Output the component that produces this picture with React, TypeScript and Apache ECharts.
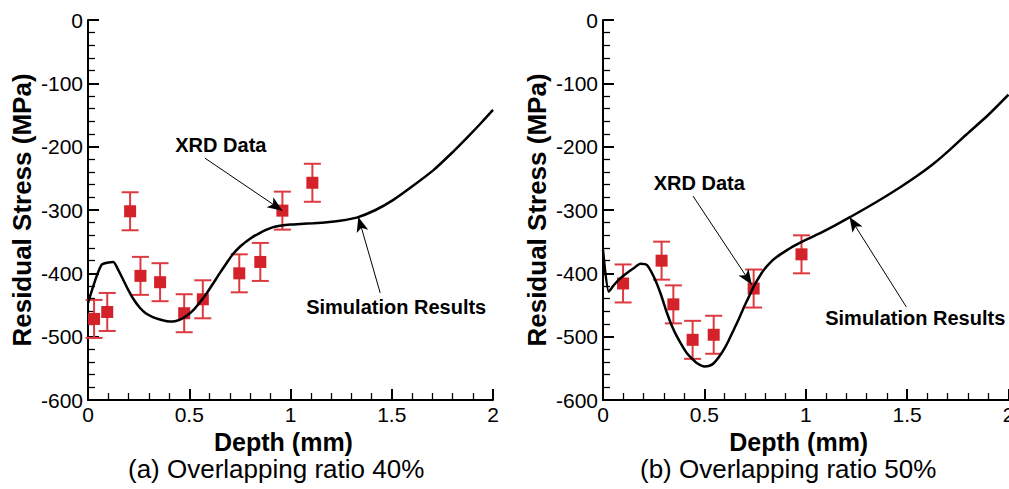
import React, { useEffect, useRef } from "react";
import * as echarts from "echarts";

// ---------- data ----------
const xTicks = [0, 0.5, 1, 1.5, 2];
const yTicks = [0, -100, -200, -300, -400, -500, -600];

// (a) Overlapping ratio 40%
const aXrdDepth = [0.03, 0.095, 0.208, 0.259, 0.356, 0.475, 0.567, 0.747, 0.851, 0.96, 1.108];
const aXrdStress = [-472, -461, -302, -404, -414, -463, -441, -400, -382, -301, -257];
const aXrdErr = [30, 30, 30, 30, 30, 30, 30, 30, 30, 30, 30];
const aSimDepth = [0, 0.066, 0.125, 0.15, 0.175, 0.2, 0.225, 0.255, 0.285, 0.32, 0.355, 0.39, 0.42, 0.455, 0.487, 0.52, 0.552, 0.585, 0.618, 0.65, 0.684, 0.715, 0.75, 0.785, 0.816, 0.85, 0.882, 0.915, 0.948, 1.0, 1.05, 1.113, 1.18, 1.245, 1.327, 1.42, 1.508, 1.6, 1.706, 1.79, 1.871, 1.94, 2.0];
const aSimStress = [-447, -387, -382, -395, -411, -427, -441, -454, -463, -469, -473, -475.5, -476, -473, -467, -458, -446, -432, -416, -400, -384, -370, -358, -349, -342, -336, -331, -327, -325, -323, -322, -321, -319.5, -317, -312, -300, -284, -263, -237, -212, -186, -163, -142];

// (b) Overlapping ratio 50%
const bXrdDepth = [0.099, 0.289, 0.347, 0.442, 0.546, 0.743, 0.979];
const bXrdStress = [-416, -380, -449, -505, -497, -424, -370];
const bXrdErr = [30, 30, 30, 30, 30, 30, 30];
const bSimDepth = [0, 0.028, 0.055, 0.085, 0.12, 0.151, 0.184, 0.217, 0.25, 0.283, 0.316, 0.34, 0.365, 0.39, 0.414, 0.44, 0.464, 0.5, 0.525, 0.546, 0.57, 0.595, 0.62, 0.645, 0.67, 0.693, 0.718, 0.743, 0.768, 0.792, 0.825, 0.858, 0.9, 0.94, 1.0, 1.055, 1.14, 1.22, 1.34, 1.466, 1.55, 1.63, 1.71, 1.795, 1.9, 2.0];
const bSimStress = [-363, -429, -418, -408, -399, -392, -385, -387, -405, -431, -463, -483, -500, -514, -526, -535, -542, -547, -546, -542, -533, -521, -506, -489, -472, -455, -438, -421, -407, -395, -383, -374, -365, -357, -347, -339, -325, -311, -289, -264, -246, -227, -205, -180, -150, -118];

// annotations: [label, labelX, labelY, arrowFromX, arrowFromY, arrowToX, arrowToY]
const aNotes: [string, number, number, number, number, number, number][] = [
  ["XRD Data", 0.656, -197, 0.577, -218, 0.96, -301],
  ["Simulation Results", 1.522, -453, 1.443, -431, 1.335, -311],
];
const bNotes: [string, number, number, number, number, number, number][] = [
  ["XRD Data", 0.475, -258, 0.444, -278, 0.734, -418],
  ["Simulation Results", 1.54, -470, 1.496, -453, 1.216, -311],
];

const captions = ["(a) Overlapping ratio 40%", "(b) Overlapping ratio 50%"];

const RED = "#d3222a";
const RED_BAR = "#dc3a40";
const FONT = "Arial, 'Liberation Sans', Helvetica, sans-serif";

function zip(a: number[], b: number[]) {
  return a.map((v, i) => [v, b[i]]);
}

function errData(x: number[], y: number[], e: number[]) {
  return x.map((v, i) => [v, y[i] - e[i], y[i] + e[i]]);
}

function makeAxes(gridIndex: number) {
  const xAxis = {
    type: "value",
    gridIndex,
    min: 0,
    max: 2,
    interval: 0.5,
    name: "Depth (mm)",
    nameLocation: "middle",
    nameGap: 24,
    nameTextStyle: {
      fontFamily: FONT,
      fontSize: 25,
      lineHeight: 25,
      fontWeight: "bold",
      color: "#000",
      padding: [0, 14, 0, 0],
    },
    axisLine: { onZero: false, lineStyle: { color: "#000", width: 2 } },
    axisTick: { inside: true, length: 11, lineStyle: { color: "#000", width: 2 } },
    minorTick: { show: true, splitNumber: 5, length: 7, lineStyle: { color: "#000", width: 1.3 } },
    splitLine: { show: false },
    axisLabel: {
      fontFamily: FONT,
      fontSize: 21,
      color: "#000",
      margin: 4,
      formatter: (v: number) => (xTicks.includes(v) ? String(v) : ""),
    },
  };
  const yAxis = {
    type: "value",
    gridIndex,
    min: -600,
    max: 0,
    interval: 100,
    name: "Residual Stress (MPa)",
    nameLocation: "middle",
    nameGap: 53,
    nameTextStyle: { fontFamily: FONT, fontSize: 26, fontWeight: "bold", color: "#000" },
    axisLine: { onZero: false, lineStyle: { color: "#000", width: 2 } },
    axisTick: { inside: true, length: 11, lineStyle: { color: "#000", width: 2 } },
    minorTick: { show: true, splitNumber: 5, length: 7, lineStyle: { color: "#000", width: 1.3 } },
    splitLine: { show: false },
    axisLabel: {
      fontFamily: FONT,
      fontSize: 21,
      color: "#000",
      margin: 5,
      formatter: (v: number) => (yTicks.includes(v) ? String(v) : ""),
    },
  };
  return { xAxis, yAxis };
}

function errorBarSeries(idx: number, data: number[][]) {
  return {
    type: "custom",
    xAxisIndex: idx,
    yAxisIndex: idx,
    silent: true,
    z: 2,
    encode: { x: 0, y: [1, 2] },
    data,
    renderItem: (_params: any, api: any) => {
      const x = api.value(0);
      const lo = api.coord([x, api.value(1)]);
      const hi = api.coord([x, api.value(2)]);
      const hw = 8.5;
      const style = { stroke: RED_BAR, lineWidth: 2, fill: "none" };
      return {
        type: "group",
        children: [
          { type: "line", shape: { x1: lo[0], y1: lo[1], x2: hi[0], y2: hi[1] }, style },
          { type: "line", shape: { x1: lo[0] - hw, y1: lo[1], x2: lo[0] + hw, y2: lo[1] }, style },
          { type: "line", shape: { x1: hi[0] - hw, y1: hi[1], x2: hi[0] + hw, y2: hi[1] }, style },
        ],
      };
    },
  };
}

function curveSeries(idx: number, data: number[][], notes: [string, number, number, number, number, number, number][]) {
  return {
    type: "line",
    xAxisIndex: idx,
    yAxisIndex: idx,
    data,
    showSymbol: false,
    symbol: "none",
    smooth: 0.2,
    z: 4,
    lineStyle: { color: "#000", width: 2.5 },
    markLine: {
      silent: true,
      symbol: ["none", "arrow"],
      symbolSize: [9, 15],
      label: { show: false },
      lineStyle: { color: "#000", width: 1, type: "solid" },
      emphasis: { disabled: true },
      data: notes.map((n) => [{ coord: [n[3], n[4]] }, { coord: [n[5], n[6]] }]),
    },
    markPoint: {
      silent: true,
      symbol: "circle",
      symbolSize: 0,
      data: notes.map((n) => ({ name: n[0], coord: [n[1], n[2]] })),
      label: {
        show: true,
        position: "inside",
        formatter: (p: any) => p.name,
        fontFamily: FONT,
        fontSize: 20,
        fontWeight: "bold",
        color: "#000",
      },
    },
  };
}

export default function App() {
  const ref = useRef<HTMLDivElement>(null);
  useEffect(() => {
    if (!ref.current) return;
    const chart = echarts.init(ref.current, null, { renderer: "svg" });
    const a = makeAxes(0);
    const b = makeAxes(1);
    chart.setOption({
      animation: false,
      backgroundColor: "#fff",
      grid: [
        { left: 88, top: 20, width: 405, height: 380, outerBoundsMode: "none", containLabel: false },
        { left: 603, top: 20, width: 405.5, height: 380, outerBoundsMode: "none", containLabel: false },
      ],
      xAxis: [a.xAxis, b.xAxis],
      yAxis: [a.yAxis, b.yAxis],
      graphic: [
        {
          type: "text",
          left: 128,
          top: 456,
          style: { text: captions[0], fontFamily: FONT, fontSize: 26, lineHeight: 26, fill: "#000" },
        },
        {
          type: "text",
          left: 640,
          top: 456,
          style: { text: captions[1], fontFamily: FONT, fontSize: 26, lineHeight: 26, fill: "#000" },
        },
      ],
      series: [
        errorBarSeries(0, errData(aXrdDepth, aXrdStress, aXrdErr)),
        {
          type: "scatter",
          xAxisIndex: 0,
          yAxisIndex: 0,
          data: zip(aXrdDepth, aXrdStress),
          symbol: "rect",
          symbolSize: 12,
          itemStyle: { color: RED, opacity: 1 },
          z: 3,
        },
        curveSeries(0, zip(aSimDepth, aSimStress), aNotes),
        errorBarSeries(1, errData(bXrdDepth, bXrdStress, bXrdErr)),
        {
          type: "scatter",
          xAxisIndex: 1,
          yAxisIndex: 1,
          data: zip(bXrdDepth, bXrdStress),
          symbol: "rect",
          symbolSize: 12,
          itemStyle: { color: RED, opacity: 1 },
          z: 3,
        },
        curveSeries(1, zip(bSimDepth, bSimStress), bNotes),
      ],
    });
    return () => chart.dispose();
  }, []);
  return (
    <div
      ref={ref}
      style={{ position: "absolute", left: 0, top: 0, width: 1009, height: 489, background: "#fff" }}
    />
  );
}
